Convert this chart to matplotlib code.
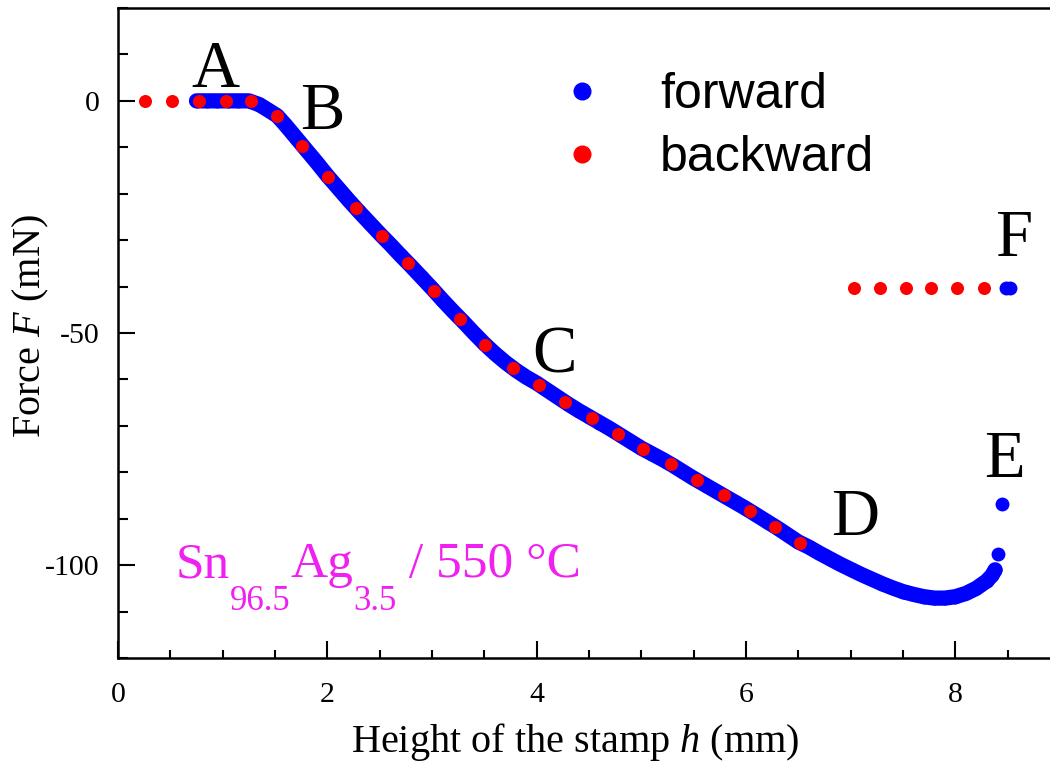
import matplotlib
matplotlib.use('Agg')
import matplotlib.pyplot as plt
from matplotlib.lines import Line2D
from matplotlib.ticker import MultipleLocator

# -----------------------------------------------------------------------------------
# Force vs stamp height, forward / backward runs
# -----------------------------------------------------------------------------------

forward_h = [0.75, 0.85, 0.95, 1.05, 1.15, 1.25, 1.35, 1.45, 1.52, 1.6, 1.7, 1.8, 1.9,
             2.0, 2.1, 2.2, 2.3, 2.4, 2.5, 2.6, 2.7, 2.8, 2.9, 3.0, 3.1, 3.2, 3.3, 3.4,
             3.5, 3.6, 3.7, 3.8, 3.9, 4.0, 4.1, 4.2, 4.3, 4.4, 4.5, 4.6, 4.7, 4.8, 4.9,
             5.0, 5.1, 5.2, 5.3, 5.4, 5.5, 5.6, 5.7, 5.8, 5.9, 6.0, 6.1, 6.2, 6.3, 6.4,
             6.5, 6.6, 6.7, 6.8, 6.9, 7.0, 7.1, 7.2, 7.3, 7.4, 7.5, 7.6, 7.7, 7.8, 7.9,
             8.0, 8.1, 8.2, 8.3, 8.35, 8.38,
             8.41, 8.45, 8.48, 8.52]
forward_F = [0, 0, 0, 0, 0, 0, -0.8, -2.2, -3.2, -5.2, -7.9, -10.6, -13.3,
             -16.1, -18.7, -21.3, -23.8, -26.2, -28.6, -30.9, -33.3, -35.6, -38.0, -40.4, -42.9, -45.3, -47.6, -50.0,
             -52.3, -54.4, -56.3, -58.0, -59.5, -60.8, -62.3, -63.8, -65.3, -66.7, -68.0, -69.3, -70.6, -72.0, -73.4,
             -74.8, -76.0, -77.2, -78.5, -79.9, -81.3, -82.6, -83.9, -85.2, -86.5, -87.8, -89.2, -90.6, -92.0, -93.5,
             -95.0, -96.1, -97.4, -98.6, -99.8, -100.9, -102.0, -103.0, -104.0, -104.9, -105.7, -106.3, -106.8, -107.1, -107.1,
             -106.8, -106.1, -105.0, -103.4, -102.2, -101.0,
             -97.5, -86.9, -40.3, -40.3]
n_band = 79  # densely sampled part of the forward run (up to h = 8.38)

backward_h = [0.26, 0.52, 0.77, 1.03, 1.27, 1.52, 1.76, 2.01, 2.27, 2.52, 2.77, 3.02,
              3.27, 3.51, 3.77, 4.02, 4.27, 4.53, 4.78, 5.02, 5.28, 5.53, 5.79, 6.04,
              6.28, 6.52,
              7.03, 7.28, 7.53, 7.77, 8.02, 8.27]
backward_F = [0, 0, 0, 0, 0, -3.2, -9.7, -16.5, -23.0, -29.1, -34.9, -41.0,
              -47.0, -52.5, -57.6, -61.1, -64.8, -68.3, -71.8, -75.0, -78.2, -81.6, -84.9, -88.3,
              -91.8, -95.2,
              -40.3, -40.3, -40.3, -40.3, -40.3, -40.3]

point_names = ['A', 'B', 'C', 'D', 'E', 'F']
point_h = [0.93, 1.95, 4.17, 7.04, 8.47, 8.56]
point_F = [3.0, -6.1, -58.4, -93.5, -81.0, -33.5]

BLUE = '#0000ff'
RED = '#ff0000'
MAGENTA = '#f020f0'

plt.rcParams['font.family'] = ['Liberation Serif', 'DejaVu Serif']
plt.rcParams['mathtext.fontset'] = 'custom'
plt.rcParams['mathtext.rm'] = 'Liberation Serif'
plt.rcParams['mathtext.it'] = 'Liberation Serif:italic'
plt.rcParams['axes.unicode_minus'] = False

fig = plt.figure(figsize=(10.5, 7.61), dpi=100)
ax = fig.add_axes([118 / 1050, 1 - 658 / 761, 942 / 1050, 650 / 761])

ax.plot(forward_h[:n_band], forward_F[:n_band], color=BLUE, lw=11,
        solid_capstyle='round', solid_joinstyle='round', zorder=2)
ax.scatter(forward_h, forward_F, s=100, color=BLUE, lw=0, zorder=2)
ax.scatter(backward_h, backward_F, s=88, color=RED, lw=0, zorder=3)

ax.set_xlim(0, 9)
ax.set_ylim(-120, 20)
ax.xaxis.set_major_locator(MultipleLocator(2))
ax.xaxis.set_minor_locator(MultipleLocator(0.5))
ax.yaxis.set_major_locator(MultipleLocator(50))
ax.yaxis.set_minor_locator(MultipleLocator(10))
for s in ax.spines.values():
    s.set_linewidth(1.8)
ax.tick_params(which='both', direction='in', top=False, right=False, width=1.5)
ax.tick_params(axis='x', which='major', length=12.5, pad=17, labelsize=21.5)
ax.tick_params(axis='x', which='minor', length=6)
ax.tick_params(axis='y', which='major', length=12.5, pad=13, labelsize=21.5)
ax.tick_params(axis='y', which='minor', length=7)

ax.set_xlabel('Height of the stamp $h$ (mm)', fontsize=29)
ax.set_ylabel('Force $F$ (mN)', fontsize=29)
ax.xaxis.set_label_coords(0.485, -0.097)
ax.yaxis.set_label_coords(-0.071, 0.511)

for name, h, F in zip(point_names, point_h, point_F):
    ax.text(h, F, name, fontsize=48, ha='center', va='baseline')

handles = [Line2D([], [], ls='none', marker='o', ms=13, mfc=BLUE, mec='none'),
           Line2D([], [], ls='none', marker='o', ms=13, mfc=RED, mec='none')]
ax.legend(handles, ['forward', 'backward'], loc='upper left',
          bbox_to_anchor=(557 / 1050, 1 - 72 / 761), bbox_transform=fig.transFigure,
          frameon=False, prop={'family': 'Liberation Sans', 'size': 36},
          handlelength=1.0, handletextpad=1.06, labelspacing=0.34,
          borderpad=0, borderaxespad=0)

# alloy / temperature note, built piece by piece for the low subscripts
base_y, sub_y = -102.6, -109.7
t = ax.text(0.55, base_y, 'Sn', color=MAGENTA, fontsize=37, va='baseline')
t = ax.annotate('96.5', xy=(1, sub_y), xycoords=(t, 'data'), color=MAGENTA,
                fontsize=25, va='baseline')
t = ax.annotate('Ag', xy=(1, base_y), xycoords=(t, 'data'), color=MAGENTA,
                fontsize=37, va='baseline')
t = ax.annotate('3.5', xy=(1, sub_y), xycoords=(t, 'data'), color=MAGENTA,
                fontsize=25, va='baseline')
t = ax.annotate(' / 550 °C', xy=(1, base_y), xycoords=(t, 'data'), color=MAGENTA,
                fontsize=37, va='baseline')

fig.savefig('out.png', dpi=100)
